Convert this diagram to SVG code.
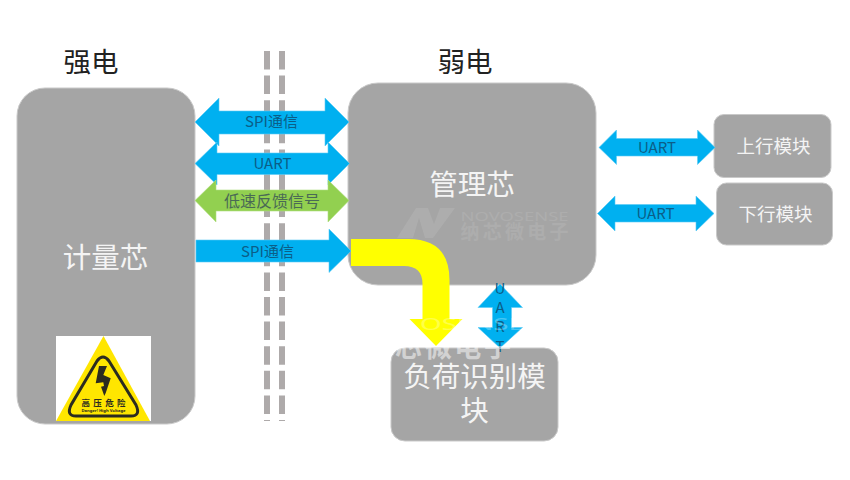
<svg xmlns="http://www.w3.org/2000/svg" width="850" height="480" viewBox="0 0 850 480">
<style>
text{font-family:"Noto Sans CJK SC","Noto Sans",sans-serif;text-anchor:middle}
.n{fill:#a5a5a5;stroke:#c9c9c9;stroke-width:1}
.w{fill:#f4f4f4}
.b{fill:#00b0f0;stroke:#5ccbf5;stroke-width:.6}
.g{fill:#92d050;stroke:#b0de80;stroke-width:.6}
.l{fill:#0b5e88;font-size:15px}
.d{stroke:#aeaaaa;stroke-width:6;stroke-dasharray:18.5 6.1;fill:none}
.m{fill:#fff;opacity:.09}
.m2{fill:#fff;opacity:.28}
.m3{fill:#fff;opacity:.5;font-weight:700}
</style>
<defs><clipPath id="wm-clip"><rect x="380" y="346" width="150" height="20"/></clipPath></defs>
<g id="divider"><path class="d" d="M267 51V421"/><path class="d" d="M282 51V421"/></g>
<g id="title-strong"><text x="91" y="72" font-size="27.500" fill="#222">强电</text></g>
<g id="title-weak"><text x="465" y="72" font-size="27.500" fill="#222">弱电</text></g>
<g id="node-meter">
<rect class="n" x="17" y="88" width="178" height="336" rx="28"/>
<text class="w" x="105.500" y="268" font-size="28.500">计量芯</text>
<g id="warning-sign">
<rect x="56" y="336" width="95" height="85" fill="#fff"/>
<path d="M103.500 336L150 421H56Z" fill="#ffe600"/>
<path d="M97 361Q103 353 109 361L136 405Q141 416 131 416H76Q66 416 71 405Z" fill="none" stroke="#2b2b20" stroke-width="3"/>
<path d="M99 366H107L103.300 375L110.700 378.300L105.700 393L104.300 396L101 386.700L104 386L103.300 382.300L95.700 383.300Z" fill="#2b2b20"/>
<text x="103.500" y="405.500" font-size="8.500" font-weight="700" fill="#2b2b20" textLength="44" lengthAdjust="spacing">高压危险</text>
<text x="103.500" y="412" font-size="3.800" font-weight="700" fill="#2b2b20" textLength="44" lengthAdjust="spacingAndGlyphs" style="font-family:'Noto Sans',sans-serif">Danger! High Voltage</text>
</g>
</g>
<g id="node-manager">
<rect class="n" x="348" y="83" width="248" height="202" rx="30"/>
<text class="w" x="472" y="195" font-size="28.500">管理芯</text>
<g id="watermark-1">
<path class="m" d="M397 238L416 208H428L434 224L440 208H455L433 238H425L419 218L413 238Z"/>
<text class="m" x="514.500" y="220.500" font-size="12" textLength="108" lengthAdjust="spacingAndGlyphs" style="font-family:'Noto Sans',sans-serif">NOVOSENSE</text>
<text class="m" x="514.500" y="238.500" font-size="19" textLength="108" lengthAdjust="spacing" font-weight="700">纳芯微电子</text>
</g>
</g>
<g id="node-up"><rect class="n" x="714" y="114.500" width="117" height="63" rx="10"/><text class="w" x="773.500" y="153" font-size="18.500">上行模块</text></g>
<g id="node-down"><rect class="n" x="716.500" y="183" width="116" height="62" rx="10"/><text class="w" x="775.500" y="221" font-size="18.500">下行模块</text></g>
<g id="node-load">
<rect class="n" x="391" y="348" width="167" height="93" rx="14"/>
<text class="w" x="474.500" y="387" font-size="28.500">负荷识别模</text>
<text class="w" x="474.500" y="421" font-size="28.500">块</text>
</g>
<g id="connectors">
<path class="b" d="M195 122L219 98V111H325V98L349 122L325 146V134H219V146Z"/>
<text class="l" x="271.500" y="127">SPI通信</text>
<path class="b" d="M195 163.500L217 142V153H328V142L349.500 163.500L328 185V174.500H217V185Z"/>
<text class="l" x="272.500" y="169">UART</text>
<path class="g" d="M195 200.500L216 180V190H328V180L349 200.500L328 222V211H216V222Z"/>
<text class="l" x="272" y="206.500" style="fill:#4a6a55;font-size:16px">低速反馈信号</text>
<path class="b" d="M196 240H329V229L351 251L329 272.500V262H196Z"/>
<text class="l" x="267.500" y="257">SPI通信</text>
<path d="M351 239H408Q449.500 239 449.500 280V319H462.500L436 346L409.500 319H422.500V284Q422.500 266 404 266H351Z" fill="#ff0"/>
<path class="b" d="M500 284L522.500 307.500H511.500V327.500H522.500L500 348L478 327.500H492.500V307.500H478Z"/>
<text class="l"><tspan x="500" y="294">U</tspan><tspan x="500" y="313">A</tspan><tspan x="500" y="332">R</tspan><tspan x="500" y="352">T</tspan></text>
<path class="b" d="M599 147.500L616.500 130V138.500H697.500V130L715 147.500L697.500 164.500V156H616.500V164.500Z"/>
<text class="l" x="657" y="153">UART</text>
<path class="b" d="M597.500 213.500L615 196V204.500H696V196L714 213.500L696 231V222H615V231Z"/>
<text class="l" x="655.500" y="219">UART</text>
</g>
<g id="watermark-2">
<text class="m2" x="472" y="330" font-size="17" textLength="104" lengthAdjust="spacingAndGlyphs" style="font-family:'Noto Sans',sans-serif">OSENSE</text>
<g clip-path="url(#wm-clip)"><text class="m3" x="453" y="357" font-size="27" textLength="116" lengthAdjust="spacing">芯微电子</text></g>
</g>
</svg>
